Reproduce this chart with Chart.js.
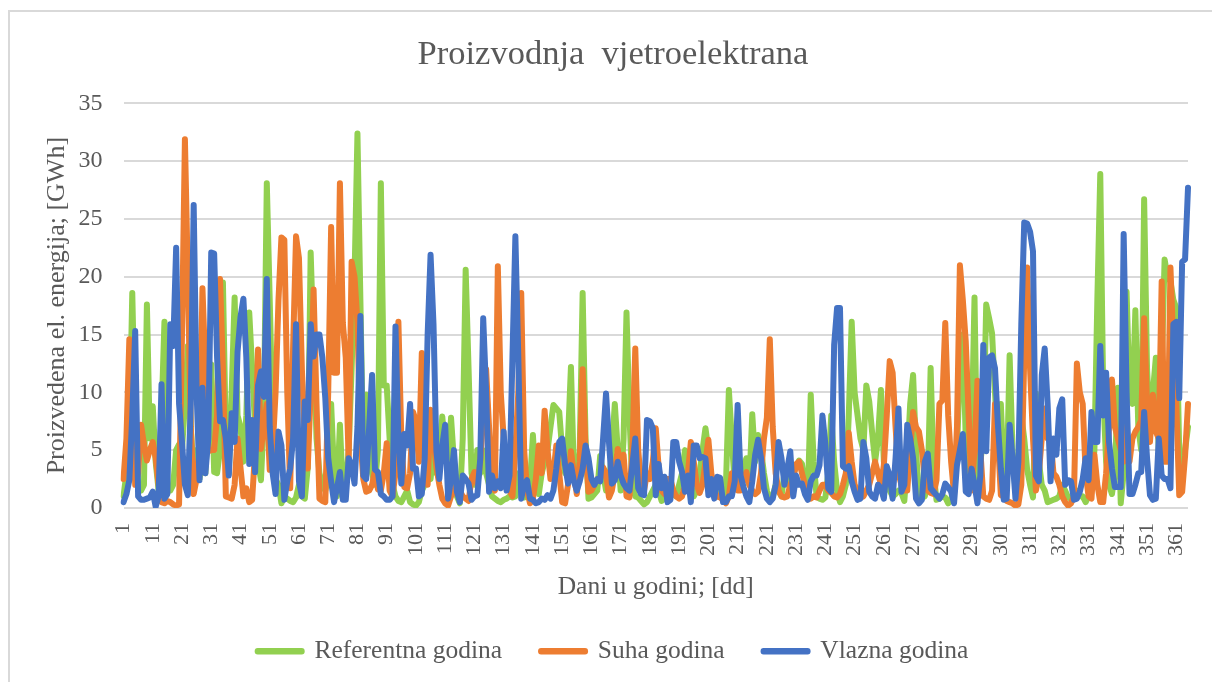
<!DOCTYPE html>
<html>
<head>
<meta charset="utf-8">
<title>Proizvodnja vjetroelektrana</title>
<script src="https://cdn.jsdelivr.net/npm/chart.js@4"></script>
<style>
  html, body { margin: 0; padding: 0; background: #fff; }
  #wrap { position: relative; width: 1212px; height: 682px; overflow: hidden; }
  #frame { position: absolute; left: 8px; top: 10px; width: 1300px; height: 800px; border: 2px solid #d9d9d9; box-sizing: border-box; }
  canvas { position: absolute; left: 0; top: 0; filter: blur(0.5px); }
</style>
</head>
<body>
<div id="wrap">
  <div id="frame"></div>
  <canvas id="windChart" width="1212" height="682"></canvas>
</div>
<script>
// Daily values, ten days per row
const referentna = [
  1,3,6,18.6,7,2,1.5,2,17.6,6,
  8.8,4,1.5,8,16.1,2,1.5,2,5,5.5,
  5,9,14,7,3,5,2.5,5,3,8,
  12.4,3.1,3,5,19.5,6,3,10,18.2,8,
  7,4,8,16.9,12,7,4,2.4,8,28.1,
  18,7.5,2.5,2,0.4,1,0.8,0.6,0.5,0.9,
  2,1,0.8,3.5,22.1,14,6,3,2,1.5,
  2.5,9,3,1,7.2,1.5,2,5,12,20,
  32.4,18,4,9.8,5,3,2,5,28.1,10.6,
  10.6,6,2,1,0.6,0.5,1,1.5,0.5,0.3,
  0.2,0.5,1.5,2,3,2.5,5,3,4,7.9,
  5,3,7.8,4,1,0.4,6,20.6,12,3,
  2,5,3,5,3,2,1,0.8,0.6,0.5,
  0.7,0.8,1,0.9,1,3,2,0.9,1,2,
  6.3,2,1.2,3,4,5,7,8.9,8.6,8.3,
  5,3,6,12.2,3,2,5,18.6,6,0.8,
  0.9,1.2,1.5,4.5,3,1.5,2,5,9,5,
  1.5,6,16.9,8,2,1,0.9,0.6,0.3,0.5,
  1,1.5,2,1.5,0.6,0.9,1,1.5,1.2,1,
  2,3,5,3,1.5,1,1.5,3,5,6.9,
  5,2,1.2,1,1.5,1,2,10.2,6,2,
  2,3,3.5,4.3,2,8.1,4,6.3,5,3,
  1.5,0.6,1,2,1.5,1,3,2,2.5,3,
  3.5,4.1,3.8,2,1,9.8,4,1,0.8,0.7,
  0.9,3,8,4,1.5,0.5,1,2,8,16.1,
  10,8,6,5,10.6,9.2,6.5,4,6,10.2,
  4,2,1.5,1,1.2,1.5,1.3,0.6,4,9,
  11.5,5,1,0.9,1,2,12.1,3,0.7,0.8,
  1,0.9,0.4,0.7,2,5,12,15,6,2,
  6,18.2,2,4,6,17.6,16.4,15.1,10,5,
  9,3,2,13.2,5,1.5,3,8,6,3.3,
  2,0.9,9.9,4,2,1.5,0.5,0.6,0.7,0.8,
  1,2,1.5,0.9,0.8,1,1.5,1,1,0.5,
  1,2,5,18,28.9,10,4,2,1.2,3,
  10.4,0.4,3,18.7,10,9,17.1,7,5,26.7,
  12,7,10,13,5,12,21.5,20,19.6,18,
  17.3,4.9,3,5,7
];

const suha = [
  2.5,6,14.6,10,2,3,7.2,5.5,4.1,5,
  5.7,4.3,2,0.5,0.4,0.6,0.5,0.3,0.2,0.3,
  15,31.9,20,7,1.2,2.5,5,19,12,4.9,
  5,5,8,19.8,12,1,0.9,0.8,2,6,
  3.5,1,1.7,0.5,0.7,5,13.7,5.1,7,9,
  3.3,5,10,18,23.4,23.2,10,1.7,14,23.5,
  21.6,12,6,3.4,10,18.9,9,0.8,0.6,0.5,
  10,24.3,11.7,11.7,28.1,16,13,4,21.3,20,
  16,6,2.5,1.4,1.5,2,3.3,1.6,1.5,3,
  5.6,1.5,1,3,16.1,6,1.8,1.7,3,8.3,
  7.5,4,13.4,5,2,8.5,6,3.5,2,0.8,
  0.4,0.2,1,1.5,2,1.5,1,0.8,0.6,2.5,
  3.1,2,4,8,12,7,2,1.5,20.9,10,
  6,2.5,1.5,1,5,10,18.6,5,1.5,0.4,
  0.8,2.5,5.4,3,8.4,5,2.5,3,5.4,3,
  0.5,0.4,2,4.9,3,1.2,4,12,5,1.4,
  1.5,2,2.5,2.5,3.5,3,0.9,1.5,3,5.1,
  3.5,4.6,1,0.9,5,13.8,5,2,1.5,3,
  2.5,4,6.9,3.5,1.5,1.2,2.5,2.5,1.5,1,
  0.8,1,2,3,5.7,4,2,1.3,2,4,
  5.9,3,1.5,1,0.9,0.7,0.4,1,3,3,
  1.5,1.5,2.5,3.1,2,1.5,1.2,1.4,3,6,
  7.8,14.6,7,3,1.5,1,0.9,1,2,2.5,
  3.8,4,3,2,1,0.8,1,0.9,1.5,2,
  2,1.5,1.3,1,0.9,1.2,2,3,6.5,4,
  2,1.5,0.9,1,1.5,2,3,4,3,2,
  3.7,8,12.7,11.7,7,3,2,1.5,1.5,5,
  8.3,7,6.6,5,2.5,1.5,1.3,1.2,2.4,9,
  9.3,16,8,4,1.2,7,21,18,14.4,8,
  1.5,5,11,5,1,0.8,0.7,1.5,9,6,
  1.1,1,0.6,0.5,0.4,0.2,0.3,2,13,20.8,
  12,6,1.5,3,6,8.6,6,6,3,2.7,
  2,1,0.5,0.2,0.4,1,12.5,10,9,3,
  1,0.8,4.6,2,0.5,0.5,3,7,11.1,7,
  6,5,4,7,4,6,6.6,7,7.6,16.4,
  9,5.7,9.8,6.6,6,19.6,4,4,20.8,14,
  9,1.1,1.4,4.5,9
];

const vlazna = [
  0.5,1.2,2.4,8,15.3,1,0.7,0.7,0.8,0.9,
  1.4,0.1,1,10.7,0.8,1.2,15.9,14,22.5,9,
  5.7,2,1.1,9,26.2,10,2.4,10.4,3,6,
  22.1,22,13,7.5,7.6,6,2.8,8.2,5.7,13.5,
  16.5,18.1,13,3.8,7.6,3.1,10.6,11.8,9.6,19.8,
  7,3,1.2,6.6,5.4,0.7,2.3,3.4,6,15.9,
  2.3,1,9.2,7.6,15.9,13.1,15,15,13,9.5,
  4.3,2.3,0.5,1.7,3.1,0.7,0.7,4.3,3.7,2.1,
  7,16.6,2.8,2.5,7,11.5,3.3,3.1,1.2,1,
  0.7,0.7,1,15.7,6,2.1,6.4,5.4,9,3.4,
  3.4,1,1.2,4.3,15,21.9,15.9,4.9,2.5,5.4,
  7.2,0.8,2.5,5,1.4,0.5,2.8,2.5,2.1,0.7,
  1,1.1,4.3,16.4,10,1.4,2.8,1.7,2.3,1.7,
  6.6,1.5,2.8,13,23.5,13,0.8,2,2.4,0.8,
  0.7,0.4,0.5,0.8,0.7,1.1,0.8,1.5,3.4,5.7,
  6,3.7,2.1,3.7,2.3,1.5,2.3,3.4,5.4,4.3,
  2.5,2,2.5,2.3,6,9.9,5.7,2.1,2.4,4,
  2.8,2.1,1.7,1.5,3.7,6,1.7,1.2,1.1,7.6,
  7.5,6.9,1.1,3.8,1.7,2.7,0.5,0.7,5.7,5.7,
  4,3.1,1.4,2.8,0.5,5.4,5.4,4.3,4.4,4.3,
  1.1,2.5,0.8,2.7,2.6,0.5,0.5,1,1,2.3,
  8.9,2.8,1.8,1,0.5,2.3,4.6,5.9,4.3,1.7,
  0.8,0.5,0.8,2,5.7,4.3,2,3.4,4.9,1,
  2.8,2,2.1,1.2,0.7,2.3,2.8,2.8,3.7,8,
  5.5,1.7,1.4,14.1,17.3,17.3,3.6,3.4,3.6,2.3,
  1.4,0.7,0.8,5.7,4.3,1.4,1,0.8,2,1.7,
  0.8,3.6,2.8,0.8,4.3,8.6,1.4,2,7.2,6,
  4.3,0.8,0.4,0.7,4,4.7,1.7,1.4,1.1,0.8,
  1.2,2.1,1.8,1.4,0.4,3.7,5,6.4,1.4,1.2,
  3.4,2,0.4,2.8,14.1,4.9,13,13.2,12.1,7.2,
  3.4,0.7,0.8,7.2,4.3,0.8,4,15.9,24.7,24.6,
  23.9,22.2,2.8,2.3,11.5,13.8,9,2.3,6,4.6,
  8.6,9.4,2,2.4,2.3,0.7,0.8,1.4,2.5,4.3,
  2.4,8.3,5.7,5.7,14,8,11.7,5.7,3.4,1.8,
  1.8,1.8,23.7,10,1.2,1.2,2,3,3.1,8.3,
  4.3,1.1,0.7,0.8,6,2.8,2.5,2.5,1.7,15.9,
  16.1,9.5,21.3,21.5,27.7
];

const days = vlazna.map((v, i) => String(i + 1));
const yTicks = [0, 5, 10, 15, 20, 25, 30, 35];

const serif = "'Liberation Serif', 'Times New Roman', serif";
const textColor = "#595959";

function series(label, data, color, order) {
  return {
    label: label,
    data: data,
    borderColor: color,
    backgroundColor: color,
    borderWidth: 6,
    pointRadius: 0,
    tension: 0,
    borderCapStyle: "round",
    borderJoinStyle: "round",
    order: order,
  };
}

new Chart(document.getElementById("windChart"), {
  type: "line",
  data: {
    labels: days,
    datasets: [
      series("Referentna godina", referentna, "#92d050", 3),
      series("Suha godina", suha, "#ed7d31", 2),
      series("Vlazna godina", vlazna, "#4472c4", 1),
    ],
  },
  options: {
    responsive: false,
    animation: false,
    layout: { padding: { left: 38, right: 24, top: 34, bottom: 8 } },
    plugins: {
      title: {
        display: true,
        text: "Proizvodnja  vjetroelektrana",
        color: textColor,
        font: { family: serif, size: 34.5, weight: "normal" },
        padding: { top: 0, bottom: 28 },
      },
      legend: {
        position: "bottom",
        // keep the legend in dataset order, draw order is set by "order"
        labels: {
          color: textColor,
          font: { family: serif, size: 25.5 },
          boxWidth: 44,
          boxHeight: 0.5,
          padding: 39,
          sort: (a, b) => a.datasetIndex - b.datasetIndex,
        },
      },
      tooltip: { enabled: false },
    },
    scales: {
      x: {
        grid: { display: false },
        border: { display: false },
        // rotated labels would otherwise pull the plot in from the right
        afterFit: function (scale) {
          scale.paddingRight = 0;
          scale.paddingLeft = 0;
        },
        title: {
          display: true,
          text: "Dani u godini; [dd]",
          color: textColor,
          font: { family: serif, size: 25.5 },
          padding: { top: 9, bottom: -3 },
        },
        ticks: {
          autoSkip: false,
          maxRotation: 90,
          minRotation: 90,
          color: textColor,
          font: { family: serif, size: 22 },
          padding: 7,
          callback: function (value, index) {
            return index % 10 === 0 ? days[index] : "";
          },
        },
      },
      y: {
        min: 0,
        max: 35,
        grid: { color: "#d9d9d9", lineWidth: 2, drawTicks: false },
        border: { display: false },
        afterFit: function (scale) {
          scale.width = 85.5;
        },
        afterBuildTicks: function (scale) {
          scale.ticks = yTicks.map((v) => ({ value: v }));
        },
        title: {
          display: true,
          text: "Proizvedena el. energija; [GWh]",
          color: textColor,
          font: { family: serif, size: 26 },
          padding: { top: 4, bottom: 0 },
        },
        ticks: {
          color: textColor,
          font: { family: serif, size: 24 },
          padding: 21,
        },
      },
    },
  },
});
</script>
</body>
</html>
